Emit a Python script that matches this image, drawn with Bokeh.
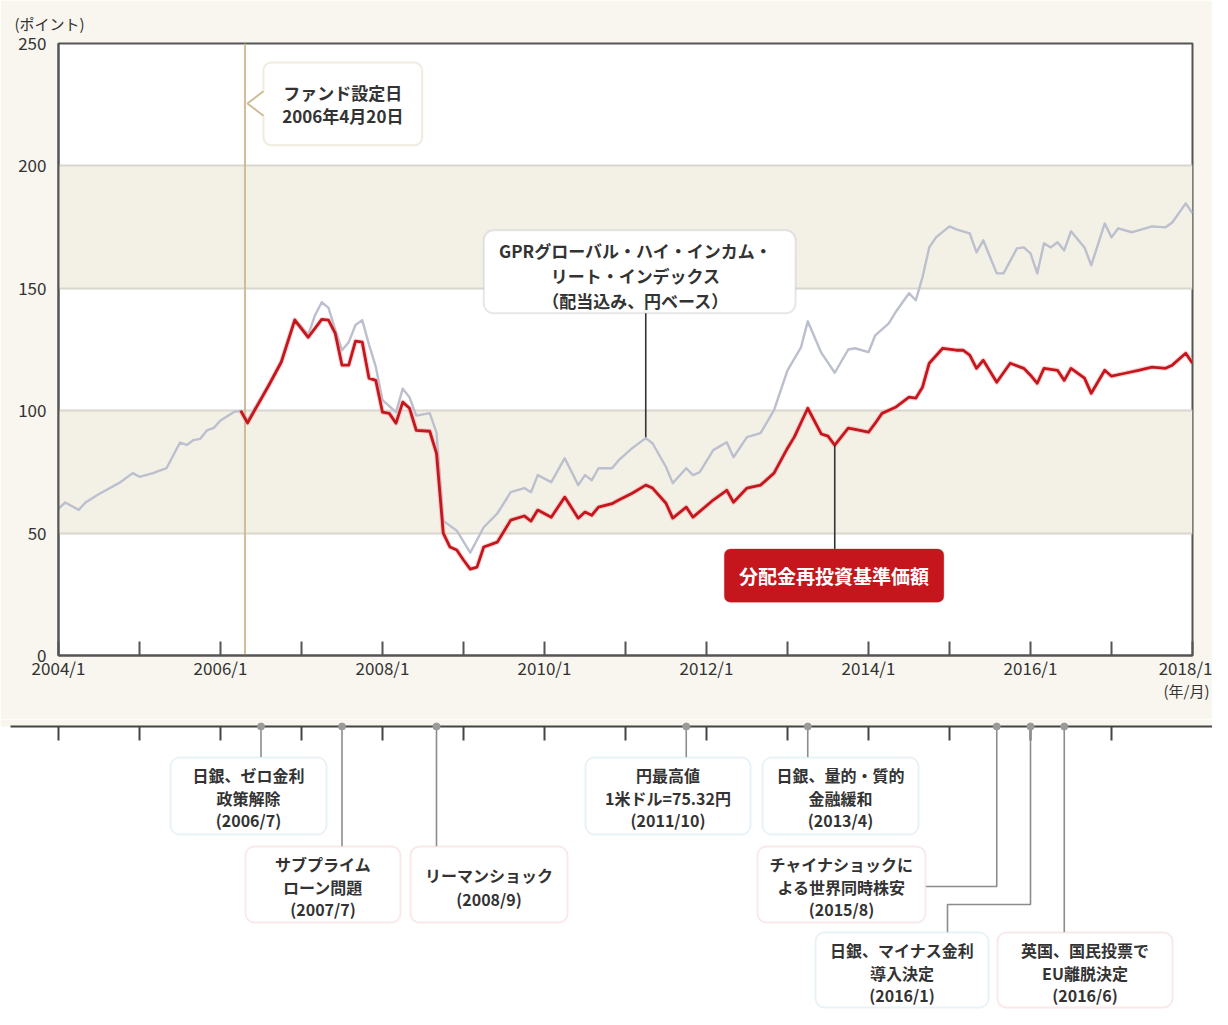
from bokeh.plotting import figure
from bokeh.models import Range1d, FixedTicker, BoxAnnotation, Label, Span, LinearAxis
from bokeh.layouts import column, row
from bokeh.embed import file_html
from bokeh.resources import INLINE

# ------------------------------------------------------------------ data
gpr_dates = ["2004/1", "2004/2", "2004/4", "2004/5", "2004/7", "2004/10", "2004/12",
             "2005/1", "2005/3", "2005/5", "2005/7", "2005/8", "2005/9", "2005/10",
             "2005/11", "2005/12", "2006/1", "2006/3", "2006/4", "2006/5", "2006/8",
             "2006/10", "2006/12", "2007/2", "2007/3", "2007/4", "2007/5", "2007/6",
             "2007/7", "2007/8", "2007/9", "2007/10", "2007/11", "2007/12", "2008/1",
             "2008/3", "2008/4", "2008/5", "2008/6", "2008/8", "2008/9", "2008/10",
             "2008/12", "2009/2", "2009/4", "2009/6", "2009/8", "2009/10", "2009/11",
             "2009/12", "2010/2", "2010/4", "2010/6", "2010/7", "2010/8", "2010/9",
             "2010/11", "2010/12", "2011/2", "2011/4", "2011/5", "2011/7", "2011/8",
             "2011/10", "2011/11", "2011/12", "2012/2", "2012/4", "2012/5", "2012/7",
             "2012/9", "2012/11", "2013/1", "2013/3", "2013/4", "2013/6", "2013/8",
             "2013/10", "2013/11", "2014/1", "2014/2", "2014/4", "2014/5", "2014/7",
             "2014/8", "2014/9", "2014/10", "2014/11", "2015/1", "2015/2", "2015/4",
             "2015/5", "2015/6", "2015/8", "2015/9", "2015/11", "2015/12", "2016/1",
             "2016/2", "2016/3", "2016/4", "2016/5", "2016/6", "2016/7", "2016/9",
             "2016/10", "2016/12", "2017/1", "2017/2", "2017/4", "2017/5", "2017/7",
             "2017/9", "2017/10", "2017/12", "2018/1"]
gpr_values = [60, 62.5, 59.5, 62.5, 66, 70.5, 74.5,
              73, 74.5, 76.5, 87, 86, 88, 88.5,
              92, 93, 96, 99.5, 100, 96, 110,
              120.5, 137.5, 131, 139, 144.3, 142, 133,
              124.7, 128, 135, 137, 127, 118, 104.3,
              99.4, 109, 105.5, 98, 99, 91, 55,
              51, 42, 52.4, 58, 66.7, 68.4, 66.7,
              73.7, 70.8, 80.6, 69.6, 73.7, 71.6, 76.5,
              76.5, 79.8, 84.7, 88.8, 86.7, 77, 70.4,
              76.5, 73.7, 74.9, 83.9, 87.1, 81, 89.2,
              90.8, 100.2, 116.5, 125.9, 136.5, 123.7, 115.5,
              125, 125.5, 123.9, 130.8, 135.7, 140.2, 148,
              145.1, 154.5, 166.7, 170.8, 175.3, 174.1, 172.4,
              164.7, 169.6, 156.1, 156.1, 166.3, 166.7, 164.3,
              156.1, 168.4, 166.7, 168.8, 165.5, 173.3, 166.7,
              159.4, 176.5, 170.8, 174.5, 172.9, 173.7, 175.3,
              174.9, 176.9, 184.7, 180.6]

nav_dates = ["2006/4", "2006/5", "2006/8", "2006/10", "2006/12", "2007/2", "2007/4",
             "2007/5", "2007/6", "2007/7", "2007/8", "2007/9", "2007/10", "2007/11",
             "2007/12", "2008/1", "2008/2", "2008/3", "2008/4", "2008/5", "2008/6",
             "2008/8", "2008/9", "2008/10", "2008/11", "2008/12", "2009/1", "2009/2",
             "2009/3", "2009/4", "2009/6", "2009/8", "2009/10", "2009/11", "2009/12",
             "2010/2", "2010/4", "2010/6", "2010/7", "2010/8", "2010/9", "2010/11",
             "2010/12", "2011/2", "2011/4", "2011/5", "2011/7", "2011/8", "2011/10",
             "2011/11", "2012/2", "2012/4", "2012/5", "2012/7", "2012/9", "2012/11",
             "2013/1", "2013/2", "2013/4", "2013/6", "2013/7", "2013/8", "2013/10",
             "2013/11", "2014/1", "2014/2", "2014/3", "2014/5", "2014/7", "2014/8",
             "2014/9", "2014/10", "2014/12", "2015/2", "2015/3", "2015/4", "2015/5",
             "2015/6", "2015/8", "2015/10", "2015/12", "2016/1", "2016/2", "2016/3",
             "2016/5", "2016/6", "2016/7", "2016/9", "2016/10", "2016/12", "2017/1",
             "2017/3", "2017/5", "2017/7", "2017/9", "2017/10", "2017/12", "2018/1"]
nav_values = [100, 95, 109.6, 119.8, 137, 130, 137.3,
              137, 131.6, 118.6, 118.6, 128.4, 128, 113.3,
              112.4, 99.4, 98.9, 94.9, 103.5, 101, 92,
              91.6, 82.6, 50, 44.3, 43.1, 39, 35.3,
              36.1, 44.3, 46.3, 55.3, 57, 54.9, 59.4,
              56.5, 64.7, 56.1, 58.6, 57.3, 60.6, 62,
              63.5, 66.3, 69.6, 68.4, 62.2, 56.1, 60.6,
              56.5, 63.5, 67.5, 62.6, 68.4, 69.6, 74.5,
              84.7, 89.2, 101, 90.5, 89.6, 85.9, 92.9,
              92.4, 91.2, 94.9, 98.9, 101.4, 105.5, 105.1,
              109.6, 119.4, 125.5, 124.7, 124.7, 122.7, 117.3,
              120.6, 111.6, 119.4, 117.3, 114.5, 111.2, 117.3,
              116.5, 112.4, 117.3, 113.3, 107.1, 116.5, 114.1,
              115.3, 116.5, 117.8, 117.3, 118.6, 123.5, 119.4]

y_ticks = [0, 50, 100, 150, 200, 250]
band_ranges = [(50, 100), (150, 200)]
x_tick_labels = ["2004/1", "2006/1", "2008/1", "2010/1", "2012/1", "2014/1", "2016/1", "2018/1"]
y_unit = "(ポイント)"
x_unit = "(年/月)"

fund_start = "2006/4/20"
fund_label = ["ファンド設定日", "2006年4月20日"]
gpr_label = ["GPRグローバル・ハイ・インカム・", "リート・インデックス", "（配当込み、円ベース）"]
gpr_pointer_date = "2011/4"
nav_label = "分配金再投資基準価額"
nav_pointer_date = "2013/8"

event_dates = ["2006/7", "2007/7", "2008/9", "2011/10", "2013/4", "2015/8", "2016/1", "2016/6"]
event_lines = [["日銀、ゼロ金利", "政策解除", "(2006/7)"],
               ["サブプライム", "ローン問題", "(2007/7)"],
               ["リーマンショック", "(2008/9)"],
               ["円最高値", "1米ドル=75.32円", "(2011/10)"],
               ["日銀、量的・質的", "金融緩和", "(2013/4)"],
               ["チャイナショックに", "よる世界同時株安", "(2015/8)"],
               ["日銀、マイナス金利", "導入決定", "(2016/1)"],
               ["英国、国民投票で", "EU離脱決定", "(2016/6)"]]
event_kinds = ["boj", "shock", "shock", "boj", "boj", "shock", "boj", "shock"]


def ym(s):
    parts = [int(v) for v in s.split("/")]
    d = parts[2] if len(parts) > 2 else 1
    return parts[0] + (parts[1] - 1) / 12 + (d - 1) / 365


gpr_x = [ym(d) for d in gpr_dates]
nav_x = [ym(d) for d in nav_dates]
fund_x = ym(fund_start)
ev_x = [ym(d) for d in event_dates]

# ------------------------------------------------------------------ styles
FONT = "Noto Sans CJK JP"
CREAM = "#f8f6ef"
BAND = "#f3f1e6"
GRID = "#d8d6cd"
FRAME = "#555555"
TXT = "#333333"
TAN = "#cfbc98"
GRAY_LINE = "#bbbfce"
RED = "#c5161d"
BLUE_BORDER = "#b3d8e6"
PINK_BORDER = "#ebb5b5"
CONN = "#8c8c8c"

W = 1212
H1 = 719
FL, FR, FT, FH = 58, 20, 43, 612
X0, X1 = 2004, 2018
PXY = (W - FL - FR) / (X1 - X0)   # pixels per year

# ------------------------------------------------------------------ main chart
p = figure(width=W, height=H1, x_range=Range1d(X0, X1), y_range=Range1d(0, 250),
           output_backend="svg", toolbar_location=None,
           min_border_left=FL, min_border_right=FR, min_border_top=FT,
           min_border_bottom=H1 - FT - FH)
p.background_fill_color = "white"
p.border_fill_color = CREAM
p.outline_line_color = FRAME
p.outline_line_width = 2

p.title.text = y_unit
p.title.align = "left"
p.title.offset = -44
p.title.standoff = 19
p.title.text_font = FONT
p.title.text_font_size = "15px"
p.title.text_font_style = "normal"
p.title.text_color = TXT

p.xgrid.visible = False
p.ygrid.ticker = FixedTicker(ticks=y_ticks[1:-1])
p.ygrid.grid_line_color = GRID
p.ygrid.grid_line_width = 2

p.yaxis.ticker = FixedTicker(ticks=y_ticks)
p.yaxis.major_tick_in = 0
p.yaxis.major_tick_out = 0
p.yaxis.minor_tick_line_color = None
p.yaxis.axis_line_color = FRAME
p.yaxis.axis_line_width = 2
p.yaxis.major_label_standoff = 12
p.yaxis.major_label_text_font = FONT
p.yaxis.major_label_text_font_size = "17px"
p.yaxis.major_label_text_color = TXT

label_years = [int(t.split("/")[0]) for t in x_tick_labels]
p.xaxis.ticker = FixedTicker(ticks=label_years,
                             minor_ticks=[y for y in range(X0, X1 + 1) if y not in label_years])
p.xaxis.major_label_overrides = {y: t for y, t in zip(label_years, x_tick_labels)}
p.xaxis.major_tick_in = 14
p.xaxis.major_tick_out = 0
p.xaxis.minor_tick_in = 14
p.xaxis.minor_tick_out = 0
p.xaxis.major_tick_line_color = FRAME
p.xaxis.minor_tick_line_color = FRAME
p.xaxis.major_tick_line_width = 2
p.xaxis.minor_tick_line_width = 2
p.xaxis.axis_line_color = FRAME
p.xaxis.axis_line_width = 2
p.xaxis.major_label_standoff = -1
p.xaxis.major_label_text_font = FONT
p.xaxis.major_label_text_font_size = "17px"
p.xaxis.major_label_text_color = TXT

unit_axis = LinearAxis(ticker=FixedTicker(ticks=[X1]),
                       major_label_overrides={X1: x_unit},
                       axis_line_color=None, major_tick_line_color=None,
                       minor_tick_line_color=None, major_label_standoff=-9,
                       major_label_text_font=FONT, major_label_text_font_size="15px",
                       major_label_text_color=TXT)
p.add_layout(unit_axis, "below")

for lo, hi in band_ranges:
    p.add_layout(BoxAnnotation(bottom=lo, top=hi, fill_color=BAND, fill_alpha=1,
                               line_alpha=0, level="image"))

p.add_layout(Span(location=fund_x, dimension="height", line_color=TAN,
                  line_width=2, level="underlay"))

# founding-date callout
fb = dict(left=2006.53, right=2008.49, top=242.2, bottom=208.4)
p.add_layout(BoxAnnotation(**fb, fill_color="white", fill_alpha=1, line_color=TAN,
                           line_width=2, border_radius=8, level="underlay"))
tip_x = fund_x + 0.03
p.patch([fb["left"] + 0.03, tip_x, fb["left"] + 0.03], [230.5, 225.5, 220.5],
        fill_color="white", line_alpha=0)
p.line([fb["left"], tip_x, fb["left"]], [230.5, 225.5, 220.5], line_color=TAN, line_width=2)
for i, t in enumerate(fund_label):
    p.add_layout(Label(x=(fb["left"] + fb["right"]) / 2, y=229.8 - i * 9.2, text=t,
                       text_align="center", text_baseline="middle", text_font=FONT,
                       text_font_size="17px", text_font_style="bold", text_color=TXT))

# GPR callout
gb = dict(left=2009.25, right=2013.10, top=173.7, bottom=139.8)
p.add_layout(BoxAnnotation(**gb, fill_color="white", fill_alpha=1, line_color="#aeb1b8",
                           line_width=2, border_radius=10, level="underlay"))
gpx = ym(gpr_pointer_date)
gpy = gpr_values[gpr_dates.index(gpr_pointer_date)]
p.line([gpx, gpx], [gb["bottom"], gpy], line_color="#333333", line_width=1.6)
for i, t in enumerate(gpr_label):
    p.add_layout(Label(x=(gb["left"] + gb["right"]) / 2 - 0.05, y=165.3 - i * 10.2, text=t,
                       text_align="center", text_baseline="middle", text_font=FONT,
                       text_font_size="17px", text_font_style="bold", text_color=TXT))

# series
p.line(gpr_x, gpr_values, line_color=GRAY_LINE, line_width=2.4, line_join="round")
p.line(nav_x, nav_values, line_color="#f0a0a0", line_width=5, line_alpha=0.45, line_join="round")
p.line(nav_x, nav_values, line_color=RED, line_width=2.8, line_join="round")

# NAV callout
nb = dict(left=2012.22, right=2014.93, top=43.5, bottom=21.8)
npx = ym(nav_pointer_date)
npy = nav_values[nav_dates.index(nav_pointer_date)]
p.line([npx, npx], [nb["top"], npy], line_color="#333333", line_width=1.6)
p.add_layout(BoxAnnotation(**nb, fill_color=RED, fill_alpha=1, line_color=RED,
                           line_width=1, border_radius=6))
p.add_layout(Label(x=(nb["left"] + nb["right"]) / 2, y=(nb["top"] + nb["bottom"]) / 2,
                   text=nav_label, text_align="center", text_baseline="middle",
                   text_font=FONT, text_font_size="19px", text_font_style="bold",
                   text_color="white"))

# ------------------------------------------------------------------ timeline
H2 = 1009 - H1
TOP2 = H1               # picture y of the timeline figure's top edge
XS, XE = X0 - FL / PXY, X1 + FR / PXY
p2 = figure(width=W, height=H2, output_backend="svg", toolbar_location=None,
            x_range=Range1d(XS, XE), y_range=Range1d(-H2, 0), min_border=0)
p2.axis.visible = False
p2.grid.visible = False
p2.outline_line_color = None
p2.background_fill_color = "white"
p2.border_fill_color = "white"


def gx(px):          # picture x -> years
    return X0 + (px - FL) / PXY


def gy(py):          # picture y -> timeline figure units
    return -(py - TOP2)


LINE_Y = gy(726)
p2.add_layout(BoxAnnotation(top=0, bottom=LINE_Y, fill_color=CREAM, fill_alpha=1,
                            line_alpha=0, level="image"))
p2.line([gx(10), XE], [LINE_Y, LINE_Y], line_color="#444444", line_width=2)
yrs = list(range(X0, X1))
p2.segment(x0=yrs, y0=[LINE_Y] * len(yrs), x1=yrs, y1=[LINE_Y - 14] * len(yrs),
           line_color="#444444", line_width=2)

# box layout in picture pixels: left, right, top, bottom
box_px = [(170, 326, 757, 834), (245, 400, 846, 922), (410, 567, 846, 922),
          (585, 750, 757, 834), (762, 918, 757, 834), (757, 925, 846, 922),
          (815, 988, 932, 1007), (997, 1172, 932, 1007)]

for i, (ex, lines, kind) in enumerate(zip(ev_x, event_lines, event_kinds)):
    l, r, t, b = box_px[i]
    if i == 5:
        xs = [ex, ex, gx(r)]
        ys = [LINE_Y, gy(886), gy(886)]
    elif i == 6:
        xs = [ex, ex, gx(947), gx(947)]
        ys = [LINE_Y, gy(904), gy(904), gy(t)]
    else:
        xs = [ex, ex]
        ys = [LINE_Y, gy(t)]
    p2.line(xs, ys, line_color=CONN, line_width=1.6)
    col = BLUE_BORDER if kind == "boj" else PINK_BORDER
    p2.add_layout(BoxAnnotation(left=gx(l), right=gx(r), top=gy(t), bottom=gy(b),
                                fill_color="white", fill_alpha=1, line_color=col,
                                line_width=2, border_radius=9))
    cx = gx((l + r) / 2)
    if len(lines) == 3:
        offs = [17, 40, 62]
    else:
        offs = [28, 52]
    for o, txt in zip(offs, lines):
        p2.add_layout(Label(x=cx, y=gy(t + o), text=txt, text_align="center",
                            text_baseline="middle", text_font=FONT,
                            text_font_size="16px", text_font_style="bold",
                            text_color=TXT))

p2.scatter(ev_x, [LINE_Y] * len(ev_x), size=7, fill_color="#9a9a9a", line_color="#9a9a9a")

layout = column(p, row(p2), spacing=0)
open("out.html", "w").write(file_html(layout, INLINE))
